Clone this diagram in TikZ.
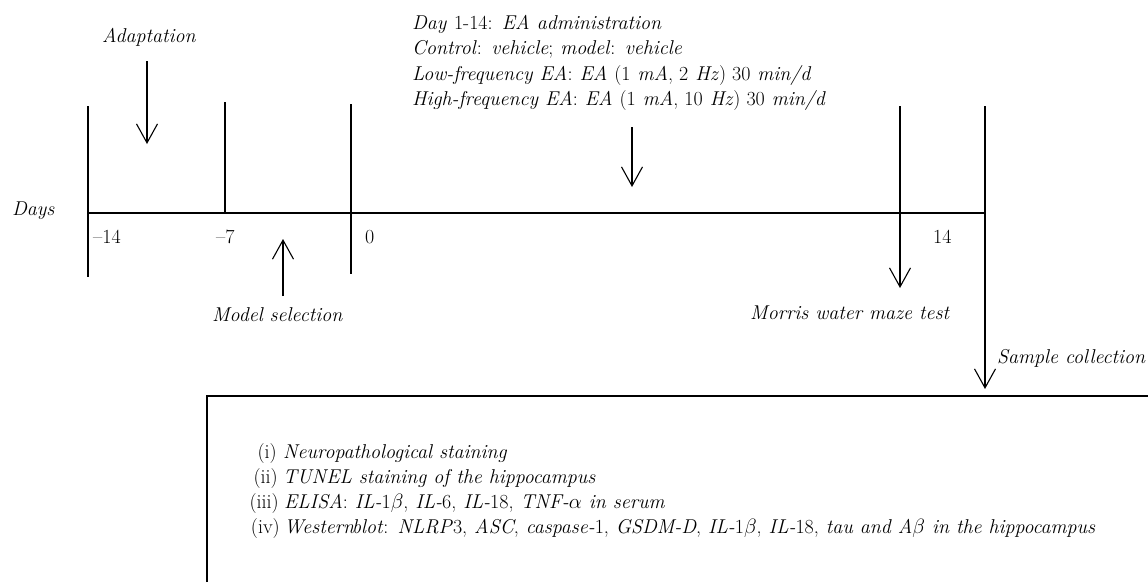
\documentclass[tikz,border=0pt]{standalone}
\usetikzlibrary{arrows.meta}
\begin{document}
\begin{tikzpicture}[x=1pt,y=-1pt,
  tl/.style={line width=1.1pt},
  arr/.style={line width=1.1pt,-{Straight Barb[length=19pt,width=21pt]}},
  lbl/.style={font=\fontsize{20}{25}\selectfont\itshape,inner sep=0pt,anchor=base west},
  num/.style={font=\fontsize{20}{25}\selectfont,inner sep=0pt,anchor=base west},
  numr/.style={font=\fontsize{20}{25}\selectfont,inner sep=0pt,anchor=base east}]
\useasboundingbox (0,0) rectangle (1148,582);
% timeline
\coordinate (tlA) at (88,213);
\coordinate (tlB) at (985,213);
\draw[tl] (tlA) -- (tlB);
% ticks
\coordinate (m14t) at (88,106);  \coordinate (m14b) at (88,277);
\coordinate (m7t) at (225,102);  \coordinate (m7b) at (225,213);
\coordinate (d0t) at (351,104);  \coordinate (d0b) at (351,274);
\draw[tl] (m14t) -- (m14b);
\draw[tl] (m7t) -- (m7b);
\draw[tl] (d0t) -- (d0b);
% arrows
\coordinate (adS) at (147,61);   \coordinate (adE) at (147,144);
\coordinate (msS) at (283,296);  \coordinate (msE) at (283,239);
\coordinate (eaS) at (632,127);  \coordinate (eaE) at (632,187);
\coordinate (mwS) at (900,106);  \coordinate (mwE) at (900,288);
\coordinate (scS) at (985,106);  \coordinate (scE) at (985,389);
\draw[arr] (adS) -- (adE);
\draw[arr] (msS) -- (msE);
\draw[arr] (eaS) -- (eaE);
\draw[arr] (mwS) -- (mwE);
\draw[arr] (scS) -- (scE);
% box
\coordinate (bxA) at (207,582);
\coordinate (bxB) at (207,396);
\coordinate (bxC) at (1148,396);
\draw[tl] (bxA) -- (bxB) -- (bxC);
% labels
\node[lbl] (days) at (12,215) {Days};
\node[lbl] (adapt) at (102,42) {Adaptation};
\node[num] (n14) at (93,243) {--14};
\node[num] (n7) at (216,243) {--7};
\node[num] (n0) at (365,243) {0};
\node[num] (p14) at (933,243) {14};
\node[lbl] (model) at (212,321) {Model selection};
\node[lbl] (morris) at (750,319) {Morris water maze test};
\node[lbl] (sample) at (997,363) {Sample collection};
\node[lbl] (ea1) at (412,29) {Day \textup{1-14:} EA administration};
\node[lbl] (ea2) at (412,54) {Control\textup{:} vehicle\textup{;} model\textup{:} vehicle};
\node[lbl] (ea3) at (412,80) {Low-frequency EA\textup{:} EA \textup{(1} mA\textup{, 2} Hz\textup{) 30} min/d};
\node[lbl] (ea4) at (412,105) {High-frequency EA\textup{:} EA \textup{(1} mA\textup{, 10} Hz\textup{) 30} min/d};
% box list
\node[numr] (li1) at (277,458) {(i)};
\node[numr] (li2) at (278,483) {(ii)};
\node[numr] (li3) at (279,508) {(iii)};
\node[numr] (li4) at (280,533) {(iv)};
\node[lbl] (lt1) at (283,458) {Neuropathological staining};
\node[lbl] (lt2) at (283,483) {TUNEL staining of the hippocampus};
\node[lbl] (lt3) at (284,508) {ELISA\textup{:} IL-\textup{1}$\beta$\textup{,} IL-\textup{6,} IL-\textup{18,} TNF-$\alpha$ in serum};
\node[lbl] (lt4) at (284,533) {Western\kern-2pt blot\textup{:} NLRP\textup{3,} ASC\textup{,} caspase-\textup{1,} GSDM-D\textup{,} IL-\textup{1}$\beta$\textup{,} IL-\textup{18,} tau and A$\beta$ in the hippocampus};
\end{tikzpicture}
\end{document}
